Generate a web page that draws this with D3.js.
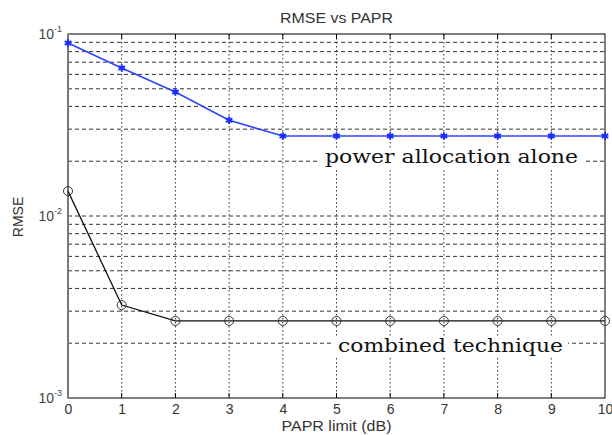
<!DOCTYPE html>
<html>
<head>
<meta charset="utf-8">
<script src="https://cdn.jsdelivr.net/npm/d3@7"></script>
<style>
  body { margin: 0; background: #fff; }
  svg { display: block; }
</style>
</head>
<body>
<script>
'use strict';

// chart data
var paprLimit = [0, 1, 2, 3, 4, 5, 6, 7, 8, 9, 10];
var powerAllocationAlone = [0.0893, 0.065, 0.048, 0.0336, 0.0275, 0.0275, 0.0275, 0.0275, 0.0275, 0.0275, 0.0275];
var combinedTechnique = [0.0137, 0.00324, 0.00265, 0.00265, 0.00265, 0.00265, 0.00265, 0.00265, 0.00265, 0.00265, 0.00265];
var yDecades = [1e-3, 1e-2, 1e-1];
var yDecadeLabels = ['-3', '-2', '-1'];

var width = 612, height = 435;
var margin = {top: 34, right: 7, bottom: 37, left: 68};
var sans = 'Liberation Sans, Arial, sans-serif';

var svg = d3.select('body').append('svg')
    .attr('width', width)
    .attr('height', height);

var x = d3.scaleLinear().domain([0, 10]).range([margin.left, width - margin.right]);
var y = d3.scaleLog().domain([1e-3, 1e-1]).range([height - margin.bottom, margin.top]);

// minor log values 2..9 per decade
var minorVals = [];
[1e-3, 1e-2].forEach(function (d) {
    for (var k = 2; k <= 9; k++) minorVals.push(d * k);
});

var grid = svg.append('g');

// horizontal grid lines (dashed)
grid.selectAll('.hgrid')
    .data(minorVals.concat([1e-2]))
    .enter().append('line')
    .attr('x1', x(0)).attr('x2', x(10))
    .attr('y1', function (d) { return y(d); })
    .attr('y2', function (d) { return y(d); })
    .attr('stroke', '#333')
    .attr('stroke-width', 1)
    .attr('stroke-dasharray', '4,3');

// vertical grid lines (dotted)
grid.selectAll('.vgrid')
    .data(paprLimit.slice(1, 10))
    .enter().append('line')
    .attr('x1', function (d) { return x(d); })
    .attr('x2', function (d) { return x(d); })
    .attr('y1', y(1e-1)).attr('y2', y(1e-3))
    .attr('stroke', '#333')
    .attr('stroke-width', 1)
    .attr('stroke-dasharray', '1.5,2.5');

// frame
svg.append('rect')
    .attr('x', x(0)).attr('y', y(1e-1))
    .attr('width', x(10) - x(0)).attr('height', y(1e-3) - y(1e-1))
    .attr('fill', 'none').attr('stroke', '#000').attr('stroke-width', 1);
svg.append('line')
    .attr('x1', x(0)).attr('x2', x(0))
    .attr('y1', y(1e-1)).attr('y2', y(1e-3))
    .attr('stroke', '#777').attr('stroke-width', 2);

// axes
var xAxis = d3.axisBottom(x).tickValues(paprLimit).tickSize(0).tickPadding(6).tickFormat(d3.format('d'));
var gx = svg.append('g').attr('transform', 'translate(0,' + y(1e-3) + ')').call(xAxis);
gx.select('.domain').remove();
gx.selectAll('text').attr('font-family', sans).attr('font-size', 14).attr('fill', '#333');

// inner tick marks
svg.append('g').selectAll('line')
    .data(paprLimit.slice(1, 10))
    .enter().append('line')
    .attr('x1', function (d) { return x(d); }).attr('x2', function (d) { return x(d); })
    .attr('y1', y(1e-3)).attr('y2', y(1e-3) - 5)
    .attr('stroke', '#000');
svg.append('g').selectAll('line')
    .data(paprLimit.slice(1, 10))
    .enter().append('line')
    .attr('x1', function (d) { return x(d); }).attr('x2', function (d) { return x(d); })
    .attr('y1', y(1e-1)).attr('y2', y(1e-1) + 5)
    .attr('stroke', '#000');

// y tick labels 10^n
var yl = svg.append('g').selectAll('text')
    .data(yDecades)
    .enter().append('text')
    .attr('x', x(0) - 6)
    .attr('y', function (d) { return y(d) + 5; })
    .attr('text-anchor', 'end')
    .attr('font-family', sans)
    .attr('font-size', 14)
    .attr('fill', '#444');
yl.append('tspan').text('10');
yl.append('tspan')
    .attr('dy', -7)
    .attr('font-size', 9)
    .text(function (d, i) { return yDecadeLabels[i]; });

// titles
svg.append('text')
    .attr('x', (x(0) + x(10)) / 2).attr('y', 23)
    .attr('text-anchor', 'middle')
    .attr('font-family', sans)
    .attr('font-size', 14).attr('fill', '#333')
    .attr('textLength', 113).attr('lengthAdjust', 'spacingAndGlyphs')
    .text('RMSE vs PAPR');
svg.append('text')
    .attr('x', (x(0) + x(10)) / 2).attr('y', 431)
    .attr('text-anchor', 'middle')
    .attr('font-family', sans)
    .attr('font-size', 14).attr('fill', '#333')
    .attr('textLength', 110).attr('lengthAdjust', 'spacingAndGlyphs')
    .text('PAPR limit (dB)');
svg.append('text')
    .attr('transform', 'translate(23,' + 217 + ') rotate(-90)')
    .attr('text-anchor', 'middle')
    .attr('font-family', sans)
    .attr('font-size', 14).attr('fill', '#333')
    .text('RMSE');

var line = d3.line()
    .x(function (d, i) { return x(paprLimit[i]); })
    .y(function (d) { return y(d); });

// blue series
svg.append('path')
    .datum(powerAllocationAlone)
    .attr('d', line)
    .attr('fill', 'none').attr('stroke', '#2e44ff').attr('stroke-width', 1.6);
svg.append('g').selectAll('path')
    .data(powerAllocationAlone)
    .enter().append('path')
    .attr('transform', function (d, i) { return 'translate(' + x(paprLimit[i]) + ',' + y(d) + ')'; })
    .attr('d', d3.symbol(d3.symbolAsterisk, 40))
    .attr('fill', 'none').attr('stroke', '#1a2cff').attr('stroke-width', 2);

// black series
svg.append('path')
    .datum(combinedTechnique)
    .attr('d', line)
    .attr('fill', 'none').attr('stroke', '#111').attr('stroke-width', 1.3);
svg.append('g').selectAll('circle')
    .data(combinedTechnique)
    .enter().append('circle')
    .attr('cx', function (d, i) { return x(paprLimit[i]); })
    .attr('cy', function (d) { return y(d); })
    .attr('r', 4.5)
    .attr('fill', 'none').attr('stroke', '#333').attr('stroke-width', 1);

// annotations with white background
function label(txt, cx, base, w) {
    svg.append('rect')
        .attr('x', cx - w / 2 - 5).attr('y', base - 15)
        .attr('width', w + 10).attr('height', 21)
        .attr('fill', '#fff');
    svg.append('text')
        .attr('x', cx - w / 2).attr('y', base)
        .attr('textLength', w).attr('lengthAdjust', 'spacingAndGlyphs')
        .attr('font-family', 'DejaVu Serif, serif')
        .attr('font-size', 18).attr('fill', '#111')
        .text(txt);
}
label('power allocation alone', 451.5, 163, 253);
label('combined technique', 450.5, 352, 225);
</script>
</body>
</html>
